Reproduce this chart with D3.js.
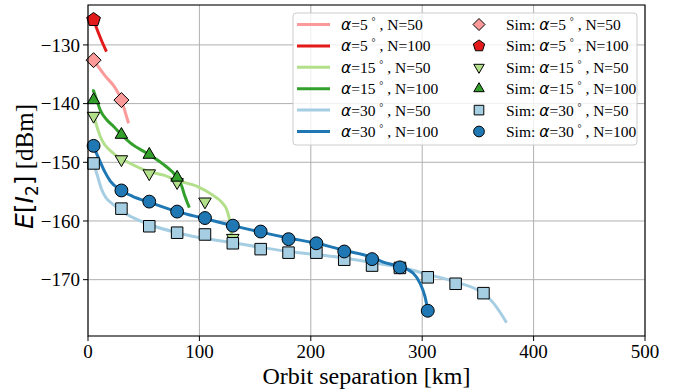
<!DOCTYPE html>
<html>
<head>
<meta charset="utf-8">
<script src="https://cdn.jsdelivr.net/npm/d3@7"></script>
<style>
  body { margin: 0; background: #fff; }
  svg { display: block; }
  text { white-space: pre; }
</style>
</head>
<body>
<svg id="chart" width="673" height="390"></svg>
<script>
// Analytical curves (orbit separation km, E[I2] dBm)
var line_a5_n50 = [[5,-132.6],[15,-135.2],[25,-137.5],[30,-139.4],[33,-141.2],[36,-143.1]];
var line_a5_n100 = [[5,-125.8],[8,-127.3],[12,-129.2],[16,-130.9]];
var line_a15_n50 = [[5,-141.8],[7,-143.3],[11,-145.6],[23,-148.5],[38,-150.2],[55,-151.6],[68,-152.2],[80,-153.1],[98,-154.1],[112,-155.6],[120,-156.8],[125,-158.3],[127.5,-160.3],[129,-162.7]];
var line_a15_n100 = [[5,-137.8],[8,-139.5],[11,-141.1],[17,-142.8],[23,-143.9],[30,-145.3],[38,-146.7],[55,-148.7],[68,-150.4],[80,-152.6],[84,-154],[87,-155.8],[90.5,-157.5]];
var line_a30_n50 = [[5,-150.2],[8,-152],[12,-154.5],[16,-156],[22,-157.1],[30,-158.3],[55,-160.6],[80,-162],[105,-163],[130,-163.7],[155,-164.5],[180,-165.2],[205,-165.7],[230,-166.3],[255,-167.1],[280,-167.9],[305,-169.1],[330,-170.4],[355,-172.4],[364,-174],[370,-175.6],[375,-177.1]];
var line_a30_n100 = [[5,-147.4],[10,-149.5],[15,-151.6],[20,-153.2],[30,-154.8],[40,-155.8],[55,-156.8],[80,-158.4],[105,-159.6],[130,-160.8],[155,-161.9],[180,-162.9],[205,-163.8],[230,-165],[255,-166.2],[265,-167],[280,-167.8],[292,-168.9],[298,-170.6],[302.5,-172.9],[305,-175.2]];

// Simulation points
var sim_a5_n50 = [[5,-132.6],[30,-139.4]];
var sim_a5_n100 = [[5,-125.7]];
var sim_a15_n50 = [[5,-142.1],[30,-149.5],[55,-151.9],[80,-153.4],[105,-156.7],[130,-162.9]];
var sim_a15_n100 = [[5,-139.4],[30,-145.3],[55,-148.7],[80,-152.6]];
var sim_a30_n50 = [[5,-150.2],[30,-157.9],[55,-160.9],[80,-162.0],[105,-162.3],[130,-163.8],[155,-164.8],[180,-165.4],[205,-165.4],[230,-166.6],[255,-167.6],[280,-168.0],[305,-169.6],[330,-170.7],[355,-172.3]];
var sim_a30_n100 = [[5,-147.2],[30,-154.8],[55,-156.7],[80,-158.4],[105,-159.5],[130,-160.8],[155,-161.8],[180,-163.1],[205,-163.8],[230,-165.2],[255,-166.5],[280,-167.9],[305,-175.3]];

var alphas = [5, 5, 15, 15, 30, 30];
var ns = [50, 100, 50, 100, 50, 100];
var colors = ["#fb9a99", "#e31a1c", "#b2df8a", "#33a02c", "#a6cee3", "#1f78b4"];
var symbols = ["diamond", "pentagon", "tridown", "triup", "square", "circle"];
var x_ticks = [0, 100, 200, 300, 400, 500];
var y_ticks = [-130, -140, -150, -160, -170];

var lines = [line_a5_n50, line_a5_n100, line_a15_n50, line_a15_n100, line_a30_n50, line_a30_n100];
var sims = [sim_a5_n50, sim_a5_n100, sim_a15_n50, sim_a15_n100, sim_a30_n50, sim_a30_n100];

var serif = "'Liberation Serif', 'Times New Roman', serif";
var sans = "'DejaVu Sans', sans-serif";

var margin = { left: 88, top: 5, right: 28, bottom: 54 };
var width = 673 - margin.left - margin.right;
var height = 390 - margin.top - margin.bottom;

var svg = d3.select("#chart");
var g = svg.append("g").attr("transform", `translate(${margin.left},${margin.top})`);

var x = d3.scaleLinear().domain([0, 500]).range([0, width]);
var y = d3.scaleLinear().domain([-179.6, -123.2]).range([height, 0]);

// Grid
g.append("g").selectAll("line").data(x_ticks).enter().append("line")
    .attr("x1", d => x(d)).attr("x2", d => x(d))
    .attr("y1", 0).attr("y2", height)
    .attr("stroke", "#b0b0b0").attr("stroke-width", 1);
g.append("g").selectAll("line").data(y_ticks).enter().append("line")
    .attr("x1", 0).attr("x2", width)
    .attr("y1", d => y(d)).attr("y2", d => y(d))
    .attr("stroke", "#b0b0b0").attr("stroke-width", 1);

// Marker path generator
function marker_path(type, s) {
    switch (type) {
        case "diamond":
            return `M0,${-s}L${s},0L0,${s}L${-s},0Z`;
        case "square":
            return `M${-s * 0.8},${-s * 0.8}h${s * 1.6}v${s * 1.6}h${-s * 1.6}Z`;
        case "triup":
            return `M0,${-s}L${s * 0.87},${s * 0.5}L${-s * 0.87},${s * 0.5}Z`;
        case "tridown":
            return `M0,${s}L${s * 0.87},${-s * 0.5}L${-s * 0.87},${-s * 0.5}Z`;
        case "pentagon": {
            var pts = d3.range(5).map(i => {
                var a = -Math.PI / 2 + i * 2 * Math.PI / 5;
                return [s * Math.cos(a), s * Math.sin(a)];
            });
            return "M" + pts.map(p => p.join(",")).join("L") + "Z";
        }
        default:
            return d3.symbol().type(d3.symbolCircle).size(Math.PI * s * s * 0.8)();
    }
}

// Curves
var line_gen = d3.line()
    .x(d => x(d[0]))
    .y(d => y(d[1]))
    .curve(d3.curveMonotoneX);

lines.forEach(function (data, i) {
    g.append("path")
        .datum(data)
        .attr("d", line_gen)
        .attr("fill", "none")
        .attr("stroke", colors[i])
        .attr("stroke-width", 3)
        .attr("stroke-linecap", "square");
});

// Simulation markers
sims.forEach(function (data, i) {
    g.append("g").selectAll("path").data(data).enter().append("path")
        .attr("d", marker_path(symbols[i], symbols[i] === "diamond" ? 7.5 : 7.2))
        .attr("transform", d => `translate(${x(d[0])},${y(d[1])})`)
        .attr("fill", colors[i])
        .attr("stroke", "#000")
        .attr("stroke-width", 1);
});

// Spines
g.append("rect")
    .attr("width", width).attr("height", height)
    .attr("fill", "none").attr("stroke", "#000").attr("stroke-width", 1.1);

// Axes ticks and labels
var xa = g.append("g").attr("transform", `translate(0,${height})`);
xa.selectAll("line").data(x_ticks).enter().append("line")
    .attr("x1", d => x(d)).attr("x2", d => x(d))
    .attr("y1", 0).attr("y2", 5).attr("stroke", "#000");
xa.selectAll("text").data(x_ticks).enter().append("text")
    .attr("x", d => x(d)).attr("y", 22)
    .attr("text-anchor", "middle")
    .style("font-family", serif).style("font-size", "19px")
    .text(d => d);

var ya = g.append("g");
ya.selectAll("line").data(y_ticks).enter().append("line")
    .attr("x1", -5).attr("x2", 0)
    .attr("y1", d => y(d)).attr("y2", d => y(d)).attr("stroke", "#000");
ya.selectAll("text").data(y_ticks).enter().append("text")
    .attr("x", -8).attr("y", d => y(d)).attr("dy", "0.35em")
    .attr("text-anchor", "end")
    .style("font-family", serif).style("font-size", "19px")
    .text(d => "\u2212" + Math.abs(d));

svg.append("text")
    .attr("x", margin.left + width / 2).attr("y", 384)
    .attr("text-anchor", "middle")
    .style("font-family", serif).style("font-size", "24px")
    .text("Orbit separation [km]");

// Y label: E[I_2] [dBm]
var ylab = svg.append("text")
    .attr("transform", `translate(33,${margin.top + height / 2 - 4}) rotate(-90)`)
    .attr("text-anchor", "middle")
    .style("font-size", "25px");
ylab.append("tspan").style("font-family", sans).style("font-style", "italic").text("E");
ylab.append("tspan").style("font-family", sans).text("[");
ylab.append("tspan").style("font-family", sans).style("font-style", "italic").text("I");
ylab.append("tspan").style("font-family", sans).style("font-size", "17px").attr("dy", 5).text("2");
ylab.append("tspan").style("font-family", sans).attr("dy", -5).text("]");
ylab.append("tspan").style("font-family", serif).text(" [dBm]");

// Legend
var leg = svg.append("g").attr("transform", "translate(293,13)");
leg.append("rect")
    .attr("width", 344).attr("height", 132)
    .attr("rx", 3)
    .attr("fill", "#fff").attr("fill-opacity", 0.8)
    .attr("stroke", "#cccccc").attr("stroke-width", 1);

function legend_label(sel, prefix, i) {
    var t = sel.append("text")
        .attr("dy", "0.35em")
        .style("font-family", serif).style("font-size", "15.5px");
    if (prefix) t.append("tspan").text(prefix);
    t.append("tspan").style("font-family", sans).style("font-style", "italic").text("\u03b1");
    t.append("tspan").text("=" + alphas[i] + " ");
    t.append("tspan").style("font-size", "10px").attr("dy", -5).text("\u00b0");
    t.append("tspan").attr("dy", 5).text(" , N=" + ns[i]);
    return t;
}

colors.forEach(function (c, i) {
    var row = leg.append("g").attr("transform", `translate(0,${11.5 + i * 21.4})`);
    row.append("line")
        .attr("x1", 4).attr("x2", 37).attr("y1", 0).attr("y2", 0)
        .attr("stroke", c).attr("stroke-width", 3);
    legend_label(row, null, i).attr("x", 48);
    row.append("path")
        .attr("d", marker_path(symbols[i], 6))
        .attr("transform", "translate(186,0)")
        .attr("fill", c).attr("stroke", "#000").attr("stroke-width", 1);
    legend_label(row, "Sim: ", i).attr("x", 213);
});
</script>
</body>
</html>
